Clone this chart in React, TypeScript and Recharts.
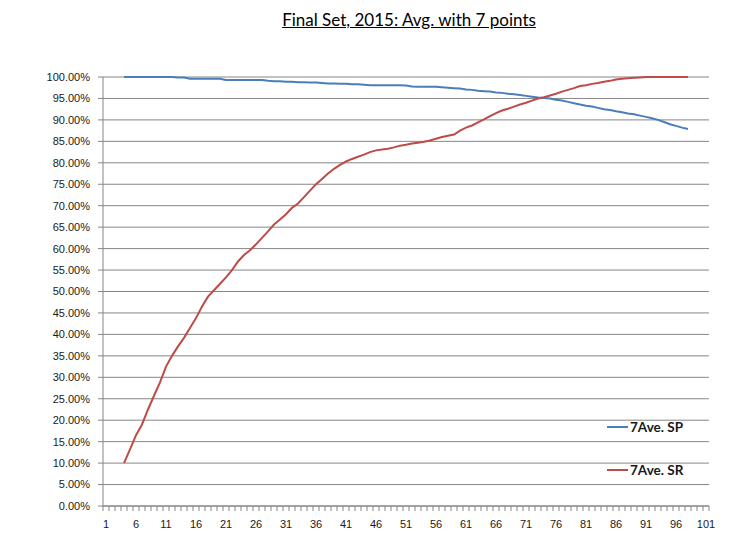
import { LineChart, Line, XAxis, YAxis, CartesianGrid } from 'recharts';

// categories that carry a value (the axis itself runs 1..101)
const categories = [
    4, 5, 6, 7, 8, 9, 10, 11, 12, 13, 14, 15, 16, 17, 18, 19, 20, 21, 22, 23,
    24, 25, 26, 27, 28, 29, 30, 31, 32, 33, 34, 35, 36, 37, 38, 39, 40, 41, 42, 43,
    44, 45, 46, 47, 48, 49, 50, 51, 52, 53, 54, 55, 56, 57, 58, 59, 60, 61, 62, 63,
    64, 65, 66, 67, 68, 69, 70, 71, 72, 73, 74, 75, 76, 77, 78, 79, 80, 81, 82, 83,
    84, 85, 86, 87, 88, 89, 90, 91, 92, 93, 94, 95, 96, 97, 98,
];

const spValues = [
    100, 100, 100, 100, 100, 100, 100, 100, 100, 99.9, 99.9, 99.6, 99.6, 99.6, 99.6, 99.6, 99.6, 99.3, 99.3, 99.3,
    99.3, 99.3, 99.3, 99.3, 99.1, 99.0, 99.0, 98.9, 98.9, 98.8, 98.8, 98.7, 98.7, 98.6, 98.5, 98.5, 98.4, 98.4, 98.3, 98.3,
    98.2, 98.1, 98.1, 98.1, 98.1, 98.1, 98.1, 98.0, 97.8, 97.7, 97.7, 97.7, 97.7, 97.6, 97.5, 97.4, 97.3, 97.1, 97.0, 96.8,
    96.7, 96.6, 96.4, 96.3, 96.1, 96.0, 95.8, 95.6, 95.4, 95.2, 95.1, 95.0, 94.7, 94.5, 94.2, 93.9, 93.6, 93.3, 93.1, 92.8,
    92.5, 92.3, 92.0, 91.8, 91.5, 91.3, 91.0, 90.7, 90.4, 90.0, 89.5, 89.0, 88.6, 88.2, 87.9,
];

const srValues = [
    10.0, 13.2, 16.5, 19.0, 22.5, 25.7, 28.8, 32.5, 35.0, 37.2, 39.2, 41.5, 43.8, 46.5, 48.8, 50.3, 51.8, 53.3, 55.0, 57.0,
    58.5, 59.6, 61.0, 62.5, 64.0, 65.6, 66.8, 68.0, 69.5, 70.5, 72.0, 73.5, 75.0, 76.2, 77.5, 78.6, 79.5, 80.3, 80.9, 81.4,
    81.9, 82.5, 82.9, 83.1, 83.3, 83.6, 84.0, 84.2, 84.5, 84.7, 84.9, 85.2, 85.6, 86.0, 86.3, 86.6, 87.5, 88.2, 88.7, 89.4,
    90.1, 90.9, 91.6, 92.2, 92.6, 93.1, 93.6, 94.0, 94.5, 95.0, 95.3, 95.7, 96.1, 96.6, 97.0, 97.4, 97.9, 98.1, 98.4, 98.6,
    98.9, 99.1, 99.4, 99.6, 99.7, 99.8, 99.9, 100, 100, 100, 100, 100, 100, 100, 100,
];

const xTickLabels = [1, 6, 11, 16, 21, 26, 31, 36, 41, 46, 51, 56, 61, 66, 71, 76, 81, 86, 91, 96, 101];
const yTicks = [0, 5, 10, 15, 20, 25, 30, 35, 40, 45, 50, 55, 60, 65, 70, 75, 80, 85, 90, 95, 100];

const seriesNames = ['7Ave. SP', '7Ave. SR'];

const BLUE = '#4A7EBB';
const RED = '#BE4B48';
const GRID = '#868686';
const TEXT = '#1a1a1a';
const FONT = '"Liberation Sans", Arial, sans-serif';

const data = categories.map((x, i) => ({ x, sp: spValues[i], sr: srValues[i] }));

// tick marks sit on the category boundaries, labels on every 5th category
const boundaries = Array.from({ length: 102 }, (_, i) => i + 0.5);
const xTicks = [...boundaries, ...xTickLabels].sort((a, b) => a - b);

function XTick(props: any) {
    const { x, y, payload } = props;
    const v = payload.value;
    if (v % 1 !== 0) {
        return <line x1={x} x2={x} y1={y} y2={y + 5} stroke={GRID} strokeWidth={1} />;
    }
    return (
        <text x={x} y={y + 22} textAnchor="middle" fontSize={11} fontFamily={FONT} fill={TEXT}>
            {v}
        </text>
    );
}

function LegendBox() {
    const colors = [BLUE, RED];
    return (
        <div style={{ position: 'absolute', left: 607, top: 419, width: 110, height: 60 }}>
            {seriesNames.map((name, i) => (
                <div
                    key={name}
                    style={{ position: 'absolute', left: 0, top: i * 43, display: 'flex', alignItems: 'center', whiteSpace: 'nowrap' }}
                >
                    <div style={{ width: 21, height: 2, background: colors[i], marginRight: 2 }} />
                    <span style={{ fontFamily: 'Lato, sans-serif', fontWeight: 700, fontSize: 13.5, color: TEXT }}>{name}</span>
                </div>
            ))}
        </div>
    );
}

export default function App() {
    return (
        <div style={{ position: 'absolute', left: 0, top: 0, width: 733, height: 546, background: '#fff' }}>
            <div
                style={{
                    position: 'absolute',
                    left: 0,
                    width: 818,
                    top: 9,
                    textAlign: 'center',
                    fontFamily: 'Lato, sans-serif',
                    fontSize: 17,
                    textDecoration: 'underline',
                    color: '#000',
                }}
            >
                Final Set, 2015: Avg. with 7 points
            </div>
            <LineChart width={733} height={546} data={data} margin={{ top: 77, right: 24, left: 0, bottom: 10 }}>
                <CartesianGrid horizontal vertical={false} stroke={GRID} strokeWidth={1} />
                <XAxis
                    dataKey="x"
                    type="number"
                    domain={[0.5, 101.5]}
                    ticks={xTicks}
                    interval={0}
                    tick={<XTick />}
                    tickLine={false}
                    tickSize={0}
                    tickMargin={0}
                    axisLine={{ stroke: GRID }}
                    height={30}
                />
                <YAxis
                    domain={[0, 100]}
                    ticks={yTicks}
                    interval={0}
                    width={103}
                    tickSize={5}
                    tickMargin={8}
                    tickLine={{ stroke: GRID }}
                    axisLine={{ stroke: GRID }}
                    tick={{ fontSize: 11, fontFamily: FONT, fill: TEXT }}
                    tickFormatter={(v: number) => v.toFixed(2) + '%'}
                />
                <Line type="linear" dataKey="sp" name={seriesNames[0]} stroke={BLUE} strokeWidth={2} dot={false} isAnimationActive={false} />
                <Line type="linear" dataKey="sr" name={seriesNames[1]} stroke={RED} strokeWidth={2} dot={false} isAnimationActive={false} />
            </LineChart>
            <LegendBox />
        </div>
    );
}
